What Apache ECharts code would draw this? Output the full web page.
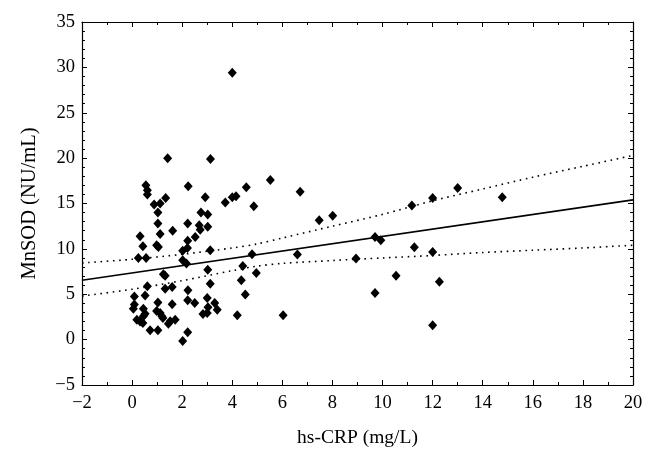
<!DOCTYPE html>
<html><head><meta charset="utf-8">
<script src="https://cdn.jsdelivr.net/npm/echarts@6/dist/echarts.min.js"></script>
<style>html,body{margin:0;padding:0;background:#fff}#c{width:656px;height:463px}</style>
</head><body><div id="c"></div>
<script>
// Scatter data: hs-CRP (mg/L) vs MnSOD (NU/mL)
const hsCRP = [1.42,0.55,0.61,0.61,2.24,1.34,1.12,0.88,1.03,1.03,2.22,1.62,1.12,0.32,2.22,0.43,0.98,1.05,2.02,2.21,
  0.25,0.56,2.02,2.17,1.25,1.32,0.61,1.32,1.6,2.23,0.09,0.52,2.22,1.03,0.09,0.05,1.6,0.45,0.98,1.12,
  0.52,0.45,1.19,1.23,0.19,0.32,0.43,1.52,1.45,1.72,0.72,1.03,2.22,2.02,2.52,
  3.13,4.0,4.56,2.92,4.0,4.15,3.72,4.86,2.75,3.02,2.68,3.02,2.72,3.12,4.79,4.42,3.02,4.96,3.12,4.36,
  4.52,2.5,3.0,3.3,3.03,3.4,2.83,3.0,4.2,
  5.52,6.71,7.47,8.01,6.6,6.03,9.7,9.93,11.17,12.0,13.0,14.78,11.27,12.0,10.54,12.27,12.0,9.7,8.94];
const mnSOD = [20.0,17.0,16.45,16.0,16.9,15.6,15.0,14.9,14.0,12.8,12.8,12.0,11.65,11.4,10.9,10.3,10.4,10.2,9.8,10.1,
  9.0,9.0,8.75,8.4,7.2,7.05,5.87,5.6,5.8,5.45,4.75,4.85,4.35,4.1,3.86,3.4,3.9,3.4,3.15,2.94,
  2.86,2.57,2.57,2.39,2.2,2.0,1.84,2.02,1.76,2.2,1.02,1.02,0.8,-0.15,11.3,
  19.9,29.4,16.8,15.7,15.7,15.8,15.1,14.7,14.0,13.8,12.6,12.45,12.1,9.85,9.4,8.1,7.7,7.35,6.17,6.53,
  4.96,4.04,4.6,4.04,3.56,3.3,2.83,2.94,2.68,
  17.6,16.3,13.15,13.66,9.37,2.68,11.3,10.95,14.77,15.6,16.7,15.7,10.17,9.66,7.05,6.39,1.58,5.14,8.93];
// Regression line and confidence band
const fitX = [-2, 20];
const fitY = [6.55, 15.4];
const bandX = [-2, 0, 2, 4, 5, 6, 8, 10, 12, 14, 16, 18, 20];
const upperY = [8.45, 8.85, 9.4, 10.1, 10.55, 11.2, 12.5, 13.8, 15.3, 16.6, 17.9, 19.1, 20.3];
const lowerY = [4.8, 5.55, 6.5, 7.6, 8.1, 8.4, 8.72, 9.0, 9.27, 9.6, 9.85, 10.1, 10.4];

const FONT = 'Liberation Serif';
const minus = v => String(v).replace('-', '\u2212');
const zip = (a, b) => a.map((v, i) => [v, b[i]]);

const tickStyle = {color: '#000', width: 1};
function axisCommon(extra) {
  return Object.assign({
    axisLine: {show: true, onZero: false, lineStyle: {color: '#000', width: 1.2}},
    axisTick: {show: true, inside: true, length: 5, lineStyle: tickStyle},
    minorTick: {show: true, length: 3, lineStyle: tickStyle},
    splitLine: {show: false},
    minorSplitLine: {show: false}
  }, extra);
}

const chart = echarts.init(document.getElementById('c'), null, {renderer: 'canvas'});
chart.setOption({
  animation: false,
  backgroundColor: '#fff',
  grid: {left: 82, right: 23, top: 22, bottom: 78},
  xAxis: [
    axisCommon({type: 'value', min: -2, max: 20, interval: 2, position: 'bottom',
      minorTick: {show: true, splitNumber: 2, length: 3, lineStyle: tickStyle},
      axisLabel: {color: '#000', fontFamily: FONT, fontSize: 18.5, margin: 9, formatter: minus},
      name: 'hs-CRP (mg/L)', nameLocation: 'middle', nameGap: 43,
      nameTextStyle: {color: '#000', fontFamily: FONT, fontSize: 19.5}}),
    axisCommon({type: 'value', min: -2, max: 20, interval: 2, position: 'top',
      minorTick: {show: true, splitNumber: 2, length: 3, lineStyle: tickStyle},
      axisLabel: {show: false}})
  ],
  yAxis: [
    axisCommon({type: 'value', min: -5, max: 35, interval: 5, position: 'left',
      minorTick: {show: true, splitNumber: 5, length: 3, lineStyle: tickStyle},
      axisLabel: {color: '#000', fontFamily: FONT, fontSize: 18.5, margin: 7, formatter: minus},
      name: 'MnSOD (NU/mL)', nameLocation: 'middle', nameGap: 42, nameRotate: 90,
      nameTextStyle: {color: '#000', fontFamily: FONT, fontSize: 20.5}}),
    axisCommon({type: 'value', min: -5, max: 35, interval: 5, position: 'right',
      minorTick: {show: true, splitNumber: 5, length: 3, lineStyle: tickStyle},
      axisLabel: {show: false}})
  ],
  series: [
    {type: 'line', data: zip(bandX, upperY), smooth: 0.3, symbol: 'none',
      lineStyle: {color: '#000', width: 1.6, type: [1.6, 4.6]}, z: 2},
    {type: 'line', data: zip(bandX, lowerY), smooth: 0.3, symbol: 'none',
      lineStyle: {color: '#000', width: 1.6, type: [1.6, 4.6]}, z: 2},
    {type: 'line', data: zip(fitX, fitY), symbol: 'none',
      lineStyle: {color: '#000', width: 1.6}, z: 3},
    {type: 'scatter', data: zip(hsCRP, mnSOD), symbol: 'diamond', symbolSize: [9, 10],
      itemStyle: {color: '#000', opacity: 1}, z: 4}
  ]
});
</script></body></html>
